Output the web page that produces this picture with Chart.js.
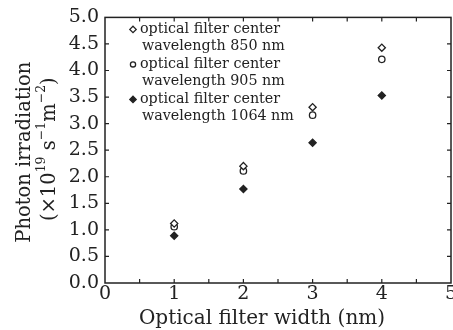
<!DOCTYPE html>
<html>
<head>
<meta charset="utf-8">
<script src="https://cdn.jsdelivr.net/npm/chart.js@4.4.0/dist/chart.umd.min.js"></script>
<style>
  html, body { margin: 0; padding: 0; background: #fff; }
  #wrap { width: 453px; height: 330px; }
</style>
</head>
<body>
<div id="wrap"><canvas id="chart" width="453" height="330"></canvas></div>
<script>
// Filter width (nm) on x, photon irradiation (x10^19 s^-1 m^-2) on y
const filterWidths = [1, 2, 3, 4];
const irr850 = [1.12, 2.20, 3.31, 4.43];
const irr905 = [1.06, 2.11, 3.16, 4.21];
const irr1064 = [0.89, 1.77, 2.64, 3.53];
const seriesLabels = [
    ['optical filter center', 'wavelength 850 nm'],
    ['optical filter center', 'wavelength 905 nm'],
    ['optical filter center', 'wavelength 1064 nm']
];
const xTicks = [0, 1, 2, 3, 4, 5];
const yTicks = [0.0, 0.5, 1.0, 1.5, 2.0, 2.5, 3.0, 3.5, 4.0, 4.5, 5.0];

const SERIF = '"DejaVu Serif", serif';
const INK = '#222';

const styles = [
    { pointStyle: 'rectRot', bg: '#fff', r: 3.6 },
    { pointStyle: 'circle', bg: '#fff', r: 3.2 },
    { pointStyle: 'rectRot', bg: INK, r: 3.6 }
];

function toPoints(ys) {
    return filterWidths.map((x, i) => ({ x: x, y: ys[i] }));
}

const datasets = [irr850, irr905, irr1064].map((ys, i) => ({
    label: seriesLabels[i].join(' '),
    data: toPoints(ys),
    pointStyle: styles[i].pointStyle,
    pointRadius: styles[i].r,
    pointBackgroundColor: styles[i].bg,
    pointBorderColor: INK,
    pointBorderWidth: 1.3,
    showLine: false
}));

// frame, inward ticks, x labels, legend and rotated y title with superscripts
const decorations = {
    id: 'decorations',
    afterDatasetsDraw(chart) {
        const { ctx, chartArea: a, scales } = chart;
        ctx.save();
        ctx.strokeStyle = INK;
        ctx.lineWidth = 1.5;
        ctx.strokeRect(a.left, a.top, a.right - a.left, a.bottom - a.top);

        ctx.lineWidth = 1.2;
        ctx.beginPath();
        for (let v = 0.5; v < 5; v += 0.5) {
            const px = scales.x.getPixelForValue(v);
            ctx.moveTo(px, a.bottom); ctx.lineTo(px, a.bottom - 4);
            ctx.moveTo(px, a.top); ctx.lineTo(px, a.top + 4);
        }
        for (let v = 0.5; v < 5; v += 0.5) {
            const py = scales.y.getPixelForValue(v);
            ctx.moveTo(a.left, py); ctx.lineTo(a.left + 4, py);
            ctx.moveTo(a.right, py); ctx.lineTo(a.right - 4, py);
        }
        ctx.stroke();

        // x tick labels and title
        ctx.fillStyle = INK;
        ctx.textAlign = 'center';
        ctx.textBaseline = 'middle';
        ctx.font = '19px ' + SERIF;
        xTicks.forEach(v => {
            ctx.fillText(String(v), scales.x.getPixelForValue(v), a.bottom + 11);
        });
        ctx.font = '20px ' + SERIF;
        ctx.fillText('Optical filter width (nm)', 262, a.bottom + 36);

        // legend
        ctx.font = '14.3px ' + SERIF;
        const lx = a.left + 28, tx = a.left + 35;
        seriesLabels.forEach((lines, i) => {
            const y0 = a.top + 12 + i * 35;
            ctx.fillStyle = styles[i].bg;
            ctx.strokeStyle = INK;
            ctx.lineWidth = 1.3;
            ctx.beginPath();
            if (styles[i].pointStyle === 'circle') {
                ctx.arc(lx, y0, styles[i].r - 0.6, 0, Math.PI * 2);
            } else {
                const r = styles[i].r - 0.4;
                ctx.moveTo(lx, y0 - r); ctx.lineTo(lx + r, y0);
                ctx.lineTo(lx, y0 + r); ctx.lineTo(lx - r, y0);
                ctx.closePath();
            }
            ctx.fill(); ctx.stroke();
            ctx.fillStyle = INK;
            ctx.textAlign = 'left';
            ctx.fillText(lines[0], tx, y0);
            ctx.fillText(lines[1], tx + 2, y0 + 17);
        });

        // y title
        const cy = (a.top + a.bottom) / 2;
        ctx.save();
        ctx.translate(25, cy + 2);
        ctx.rotate(-Math.PI / 2);
        ctx.textAlign = 'center';
        ctx.font = '19.5px ' + SERIF;
        ctx.fillText('Photon irradiation', 0, 0);
        ctx.restore();

        ctx.save();
        ctx.translate(50, cy - 1);
        ctx.rotate(-Math.PI / 2);
        const parts = [
            ['(\u00d710', 0], ['19', 1], [' s', 0], ['\u22121', 1], ['m', 0], ['\u22122', 1], [')', 0]
        ];
        const big = '19.5px ' + SERIF, small = '12.5px ' + SERIF;
        let w = 0;
        parts.forEach(p => { ctx.font = p[1] ? small : big; w += ctx.measureText(p[0]).width; });
        let x = -w / 2;
        ctx.textAlign = 'left';
        parts.forEach(p => {
            ctx.font = p[1] ? small : big;
            ctx.fillText(p[0], x, p[1] ? -8 : 0);
            x += ctx.measureText(p[0]).width;
        });
        ctx.restore();
        ctx.restore();
    }
};

new Chart(document.getElementById('chart'), {
    type: 'scatter',
    data: { datasets: datasets },
    options: {
        responsive: false,
        animation: false,
        layout: { autoPadding: false, padding: { top: 15, right: 2, left: 0, bottom: 0 } },
        plugins: { legend: { display: false }, tooltip: { enabled: false } },
        scales: {
            x: {
                type: 'linear', min: 0, max: 5,
                afterBuildTicks: s => { s.ticks = xTicks.map(v => ({ value: v })); },
                afterFit: s => { s.height = 47; },
                grid: { display: false, drawTicks: false },
                border: { display: false },
                ticks: { display: false }
            },
            y: {
                type: 'linear', min: 0, max: 5,
                afterBuildTicks: s => { s.ticks = yTicks.map(v => ({ value: v })); },
                afterFit: s => { s.width = 105; },
                grid: { display: false, drawTicks: false },
                border: { display: false },
                ticks: { color: INK, font: { family: SERIF, size: 19 }, padding: 6,
                         callback: v => v.toFixed(1) }
            }
        }
    },
    plugins: [decorations]
});
</script>
</body>
</html>
